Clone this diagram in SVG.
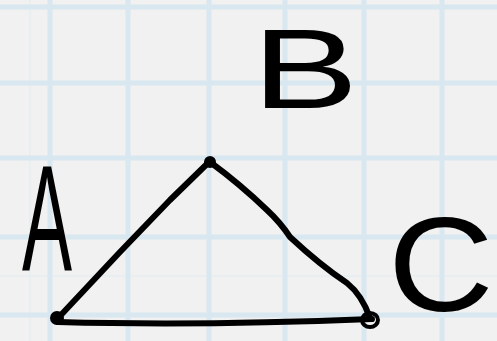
<svg xmlns="http://www.w3.org/2000/svg" width="497" height="341" viewBox="0 0 497 341">
<style>
.grid{stroke:#d9e8f0;stroke-width:5;fill:none}
.fine{stroke:#e9eef1;stroke-width:2;fill:none}
.ink{stroke:#000;stroke-width:6;fill:none;stroke-linecap:round;stroke-linejoin:round}
.lbl{font-family:"Liberation Sans",Arial,sans-serif;fill:#000}
</style>
<rect width="497" height="341" fill="#f1f1f1"/>
<g id="grid">
<path class="fine" d="M30 0V341M0 276H497"/>
<path class="grid" d="M50 0V341M128 0V341M209 0V341M285 0V341M364 0V341M442 0V341M0 7H497M0 83H497M0 158H497M0 237H497M0 315H497"/>
</g>
<g id="connectors">
<path class="ink" d="M60 316 L120 252 L170 200 L208 163"/>
<path class="ink" d="M210 162 Q240 184 267 210 Q280 222 290 237 Q320 265 347 283 Q362 295 370 318"/>
<path class="ink" d="M58 322 Q200 326 372 319"/>
</g>
<g id="A">
<circle cx="57" cy="318" r="7" fill="#000"/>
<text class="lbl" font-size="150" transform="translate(22,270) scale(0.5,1)">A</text>
</g>
<g id="B">
<circle cx="210" cy="162" r="6" fill="#000"/>
<text class="lbl" font-size="114" transform="translate(252,108) scale(1.4,1)">B</text>
</g>
<g id="C">
<ellipse cx="370" cy="320" rx="8" ry="7" fill="none" stroke="#000" stroke-width="4"/>
<text class="lbl" font-size="133" transform="translate(388,311) scale(1.1,1)">C</text>
</g>
</svg>
